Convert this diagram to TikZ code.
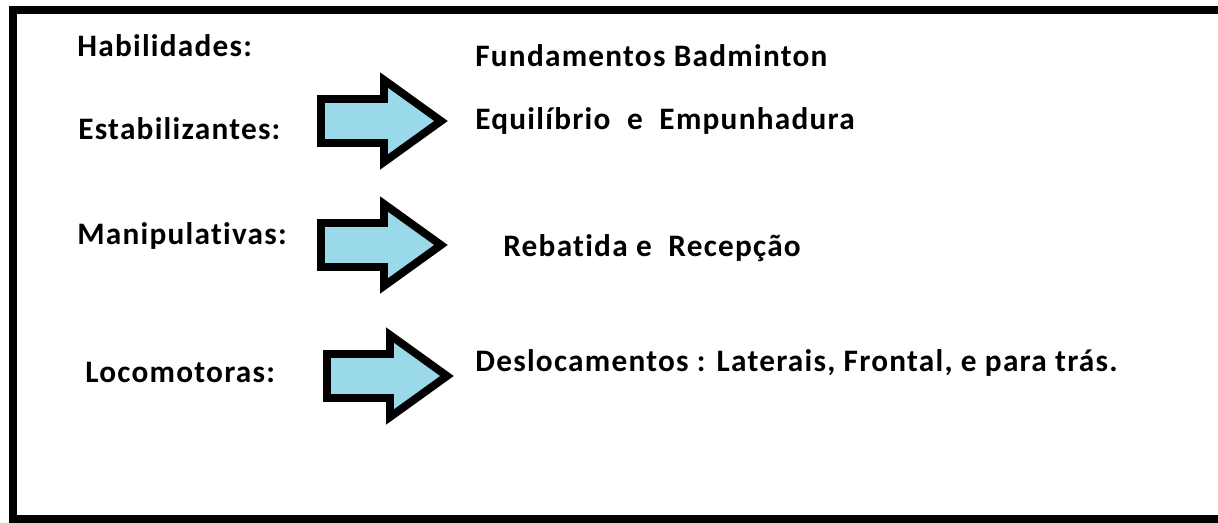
\documentclass[tikz,border=0pt]{standalone}
\usepackage{fontspec}
\setmainfont{Carlito}[Ligatures=CommonOff, LetterSpace=4]
\usepackage{tikz}
\definecolor{azulclaro}{RGB}{153,217,234}
\tikzset{
	seta/.style={draw=black, fill=azulclaro, line width=4.5pt, line join=miter},
	texto/.style={anchor=base west, inner sep=0pt, font=\fontsize{17.8}{20}\selectfont\bfseries},
	moldura/.style={draw=black, line width=4.6pt}
}

\begin{document}
\begin{tikzpicture}[x=0.02cm, y=-0.02cm]
				\useasboundingbox (0,0) rectangle (1218,523);
				\clip (0,0) rectangle (1218,523);
				% moldura (aberta a direita)
				\draw[moldura] (1240,10) -- (13,10) -- (13,519) -- (1240,519);

				% setas
				\foreach \x/\y in {321/121, 321/245, 327/376}
					\draw[seta] (\x,\y) ++(0,-22) -- ++(63,0) -- ++(0,-19) -- ++(57,41) -- ++(-57,41) -- ++(0,-19) -- ++(-63,0) -- cycle;

				% habilidades
				\node[texto] (hab) at (77,57) {Habilidades:};
				\node[texto] (est) at (78,140) {Estabilizantes:};
				\node[texto] (man) at (77,245) {Manipulativas:};
				\node[texto] (loc) at (85,383) {Locomotoras:};

				% fundamentos
				\node[texto] (fund) at (475,67) {Fundamentos Badminton};
				\node[texto] (equi) at (475,130) {Equilíbrio\ \ e\ \ Empunhadura};
				\node[texto] (reb) at (503,257) {Rebatida e\ \ Recepção};
				\node[texto] (desl) at (475,372) {Deslocamentos : Laterais, Frontal, e para trás.};
			\end{tikzpicture}
\end{document}
